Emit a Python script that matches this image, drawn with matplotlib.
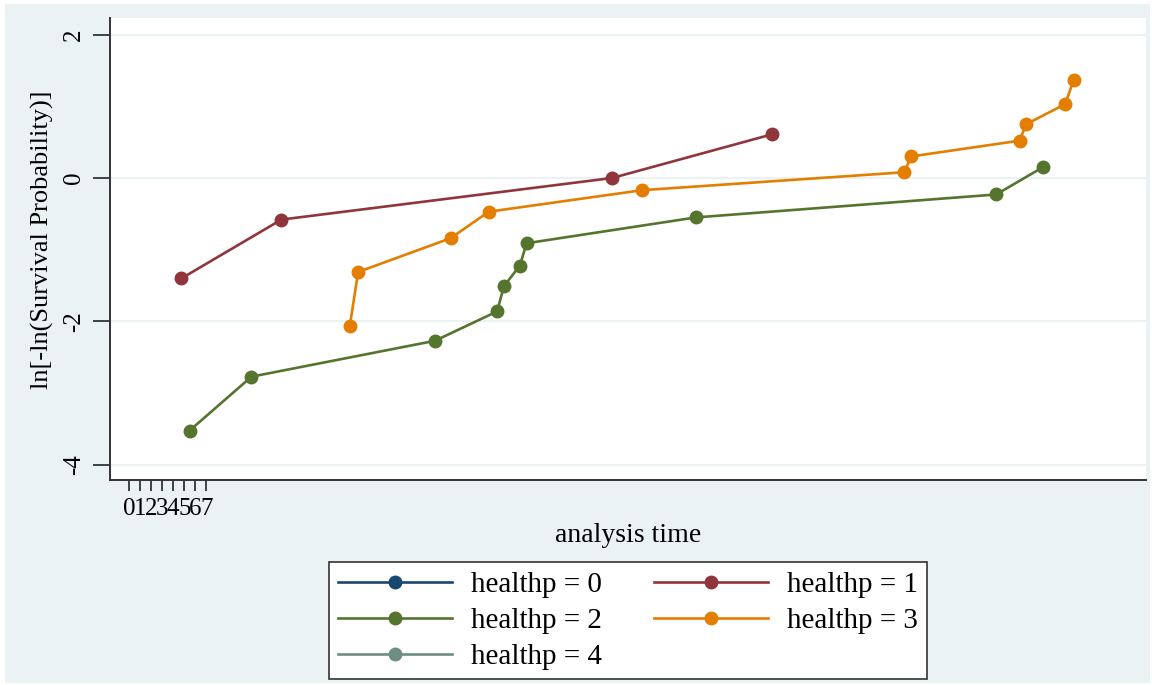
import matplotlib
matplotlib.use("Agg")
import matplotlib.pyplot as plt
from matplotlib.patches import Rectangle

plt.rcParams['font.family'] = ['Liberation Serif', 'DejaVu Serif']
plt.rcParams['axes.unicode_minus'] = False

# ln[-ln(S)] values
h1_x = [4.74, 13.78, 43.67, 58.14]
h1_y = [-1.40, -0.58, 0.00, 0.61]

h2_x = [5.49, 11.07, 27.64, 33.27, 33.88, 35.33, 35.93, 51.21, 78.36, 82.58]
h2_y = [-3.52, -2.77, -2.27, -1.86, -1.51, -1.22, -0.91, -0.55, -0.23, 0.15]

h3_x = [19.95, 20.71, 29.06, 32.52, 46.38, 70.07, 70.68, 80.47, 81.08, 84.60, 85.35]
h3_y = [-2.07, -1.31, -0.84, -0.47, -0.17, 0.08, 0.30, 0.52, 0.75, 1.03, 1.36]

# groups 0 and 4 show up only in the legend
h0_x, h0_y = [], []
h4_x, h4_y = [], []

x_ticks = [0, 1, 2, 3, 4, 5, 6, 7]
y_ticks = [-4, -2, 0, 2]

navy = '#1A476F'
maroon = '#90353B'
green = '#55752F'
orange = '#E37E00'
teal = '#6E8E84'
bg = '#EAF2F3'

fig = plt.figure(figsize=(11.52, 6.85), dpi=100)
fig.patch.set_facecolor('white')
fig.add_artist(Rectangle((5 / 1152, 1 - 683 / 685), 1145 / 1152, 679 / 685,
                         transform=fig.transFigure, facecolor=bg,
                         edgecolor='none', zorder=-10))

ax = fig.add_axes([110 / 1152, 1 - 480 / 685, 1036 / 1152, 462 / 685])
ax.set_facecolor('white')

kw = dict(lw=1.9, marker='o', markersize=9)
l0, = ax.plot(h0_x, h0_y, color=navy, label='healthp = 0', **kw)
l1, = ax.plot(h1_x, h1_y, color=maroon, label='healthp = 1', **kw)
l2, = ax.plot(h2_x, h2_y, color=green, label='healthp = 2', **kw)
l3, = ax.plot(h3_x, h3_y, color=orange, label='healthp = 3', **kw)
l4, = ax.plot(h4_x, h4_y, color=teal, label='healthp = 4', **kw)

ax.set_xlim(-1.71, 91.9)
ax.set_ylim(-4.21, 2.23)
ax.set_xticks(x_ticks)
ax.set_yticks(y_ticks)
ax.grid(axis='y', color=bg, lw=1.5)
ax.set_axisbelow(True)

for s in ['top', 'right']:
    ax.spines[s].set_visible(False)
for s in ['left', 'bottom']:
    ax.spines[s].set_color('#333333')
    ax.spines[s].set_linewidth(1.4)

ax.tick_params(axis='x', length=8, width=1.3, color='#333333', pad=5,
               labelsize=18)
ax.tick_params(axis='y', length=12, width=1.3, color='#333333', pad=6,
               labelsize=18, labelrotation=90)
for lab in ax.get_yticklabels():
    lab.set_va('center')

ax.set_xlabel('analysis time', fontsize=20, labelpad=2)
ax.set_ylabel('ln[-ln(Survival Probability)]', fontsize=19)
ax.yaxis.set_label_coords(-0.054, 0.519)

leg = fig.legend(handles=[l0, l2, l4, l1, l3], ncol=2,
                 loc='upper center', bbox_to_anchor=(628 / 1152, 1 - 562 / 685),
                 fontsize=21, frameon=True, fancybox=False, framealpha=1,
                 edgecolor='#333333', handlelength=3.9, handletextpad=0.65,
                 columnspacing=1.8, labelspacing=0.33, borderpad=0.32,
                 borderaxespad=0)
leg.get_frame().set_linewidth(1.2)

plt.savefig('out.png', dpi=100, facecolor=fig.get_facecolor())
